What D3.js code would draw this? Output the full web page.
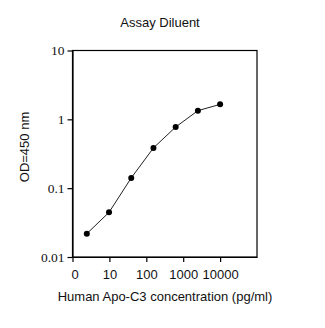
<!DOCTYPE html>
<html><head><meta charset="utf-8">
<script src="https://cdn.jsdelivr.net/npm/d3@7"></script>
<style>body{margin:0;background:#fff}svg{display:block}</style>
</head><body>
<script>
const concentrations = [2.44, 9.77, 39.06, 156.25, 625, 2500, 10000];
const odValues = [0.0218, 0.0445, 0.141, 0.384, 0.773, 1.336, 1.65];
const xTickValues = [1, 10, 100, 1000, 10000];
const xTickLabels = ["0", "10", "100", "1000", "10000"];
const yTickValues = [0.01, 0.1, 1, 10];
const yTickLabels = ["0.01", "0.1", "1", "10"];
const title = "Assay Diluent";
const xTitle = "Human Apo-C3 concentration (pg/ml)";
const yTitle = "OD=450 nm";

const W = 325, H = 328;
const m = {left: 72.5, right: 257, top: 50.5, bottom: 257};
const svg = d3.select("body").append("svg").attr("width", W).attr("height", H);

const x = d3.scaleLog().domain([1, 100000]).range([m.left, m.right]);
const y = d3.scaleLog().domain([0.01, 10]).range([m.bottom, m.top]);

// frame
svg.append("rect").attr("x", m.left).attr("y", m.top)
  .attr("width", m.right - m.left).attr("height", m.bottom - m.top)
  .attr("fill", "none").attr("stroke", "#000").attr("stroke-width", 1.2);

const xAxis = d3.axisBottom(x).tickValues(xTickValues)
  .tickFormat((d, i) => xTickLabels[i]).tickSize(5).tickSizeOuter(0);
const gx = svg.append("g").attr("transform", `translate(0,${m.bottom})`).call(xAxis);
gx.select(".domain").attr("stroke", "#000").attr("stroke-width", 1.2);
gx.selectAll(".tick line").attr("stroke", "#000").attr("stroke-width", 1.2);
gx.selectAll(".tick text").attr("font-family", "Liberation Sans, Arial, sans-serif")
  .attr("font-size", 13).attr("fill", "#111").attr("dy", "1.05em");
gx.selectAll(".tick").filter(d => d === 1).select("text").attr("dx", 2);

const yAxis = d3.axisLeft(y).tickValues(yTickValues)
  .tickFormat((d, i) => yTickLabels[i]).tickSize(5).tickSizeOuter(0);
const gy = svg.append("g").attr("transform", `translate(${m.left},0)`).call(yAxis);
gy.select(".domain").attr("stroke", "#000").attr("stroke-width", 1.2);
gy.selectAll(".tick line").attr("stroke", "#000").attr("stroke-width", 1.2);
gy.selectAll(".tick text").attr("font-family", "Liberation Serif, Times New Roman, serif")
  .attr("font-size", 13.5).attr("fill", "#111").attr("x", -8);

// line
const line = d3.line().x((d, i) => x(concentrations[i])).y(d => y(d));
svg.append("path").datum(odValues).attr("d", line)
  .attr("fill", "none").attr("stroke", "#222").attr("stroke-width", 1);

svg.selectAll("circle.pt").data(odValues).enter().append("circle")
  .attr("class", "pt")
  .attr("cx", (d, i) => x(concentrations[i])).attr("cy", d => y(d))
  .attr("r", 3).attr("fill", "#000");

// titles
svg.append("text").attr("x", 160).attr("y", 27).attr("text-anchor", "middle")
  .attr("font-family", "Liberation Sans, Arial, sans-serif").attr("font-size", 13)
  .attr("fill", "#111").text(title);
svg.append("text").attr("x", 165).attr("y", 301).attr("text-anchor", "middle")
  .attr("font-family", "Liberation Sans, Arial, sans-serif").attr("font-size", 13)
  .attr("fill", "#111").text(xTitle);
svg.append("text").attr("transform", "translate(29,147) rotate(-90)")
  .attr("text-anchor", "middle")
  .attr("font-family", "Liberation Sans, Arial, sans-serif").attr("font-size", 13)
  .attr("fill", "#111").text(yTitle);
</script>
</body></html>
